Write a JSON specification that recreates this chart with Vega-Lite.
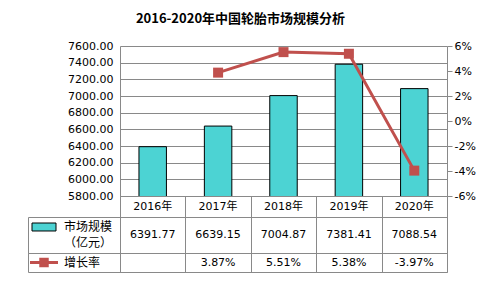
{
  "$schema": "https://vega.github.io/schema/vega-lite/v6.json",
  "padding": {"left": 23, "top": 13, "right": 5, "bottom": 5},
  "background": "#ffffff",
  "title": {
    "text": "2016-2020年中国轮胎市场规模分析",
    "font": "Noto Sans CJK SC",
    "fontSize": 13,
    "fontWeight": "bold",
    "color": "#000000",
    "anchor": "middle",
    "offset": 14,
    "dx": -9
  },
  "datasets": {
    "d": [
      {"year": "2016年", "size": 6391.77, "rate": null},
      {"year": "2017年", "size": 6639.15, "rate": 0.0387},
      {"year": "2018年", "size": 7004.87, "rate": 0.0551},
      {"year": "2019年", "size": 7381.41, "rate": 0.0538},
      {"year": "2020年", "size": 7088.54, "rate": -0.0397}
    ]
  },
  "columns": 2,
  "spacing": 0,
  "bounds": "flush",
  "align": "each",
  "concat": [
    {
      "width": 92,
      "height": 150,
      "data": {"values": []},
      "mark": "point",
      "encoding": {}
    },
    {
      "width": 327,
      "height": 150,
      "data": {"name": "d"},
      "encoding": {
        "x": {
          "field": "year",
          "type": "nominal",
          "sort": null,
          "scale": {"domain": ["2016年", "2017年", "2018年", "2019年", "2020年"], "paddingInner": 0, "paddingOuter": 0},
          "axis": null
        }
      },
      "layer": [
        {
          "mark": {"type": "bar", "width": {"band": 0.42}, "fill": "#4CD3D3", "stroke": "#000000", "strokeWidth": 1, "clip": true},
          "encoding": {
            "y": {
              "field": "size",
              "type": "quantitative",
              "scale": {"domain": [5800, 7600], "zero": false, "nice": false},
              "axis": {
                "orient": "left",
                "values": [5800, 6000, 6200, 6400, 6600, 6800, 7000, 7200, 7400, 7600],
                "format": ".2f",
                "labelOverlap": false,
                "grid": true,
                "gridColor": "#898989",
                "gridOpacity": 1,
                "domain": true,
                "domainColor": "#898989",
                "ticks": false,
                "labelPadding": 7,
                "labelFontSize": 11,
                "labelColor": "#000000",
                "labelFont": "DejaVu Sans",
                "title": null
              }
            }
          }
        },
        {
          "transform": [{"filter": "datum.rate != null"}],
          "encoding": {
            "y": {
              "field": "rate",
              "type": "quantitative",
              "scale": {"domain": [-0.06, 0.06], "nice": false, "zero": false},
              "axis": {
                "orient": "right",
                "values": [-0.06, -0.04, -0.02, 0, 0.02, 0.04, 0.06],
                "format": ".0%",
                "labelOverlap": false,
                "labelSeparation": 0,
                "grid": false,
                "domain": true,
                "domainColor": "#898989",
                "ticks": true,
                "tickSize": 5,
                "tickColor": "#898989",
                "labelPadding": 2,
                "labelFontSize": 11,
                "labelColor": "#000000",
                "labelFont": "DejaVu Sans",
                "title": null
              }
            }
          },
          "layer": [
            {
              "mark": {"type": "line", "color": "#C0504D", "strokeWidth": 3}
            },
            {
              "mark": {"type": "point", "shape": "square", "filled": true, "size": 100, "color": "#C0504D", "opacity": 1}
            }
          ]
        }
      ],
      "resolve": {"scale": {"y": "independent"}}
    },
    {
      "width": 92,
      "height": 21,
      "data": {"values": []},
      "mark": "point",
      "encoding": {}
    },
    {
      "width": 327,
      "height": 21,
      "view": {"stroke": "#898989"},
      "data": {"name": "d"},
      "mark": {"type": "text", "fontSize": 11, "color": "#000000", "font": "DejaVu Sans, Noto Sans CJK SC"},
      "encoding": {
        "x": {
          "field": "year",
          "type": "nominal",
          "scale": {"type": "band", "domain": ["2016年", "2017年", "2018年", "2019年", "2020年"], "paddingInner": 0, "paddingOuter": 0},
          "axis": {"grid": true, "tickBand": "extent", "gridColor": "#898989", "gridOpacity": 1, "labels": false, "ticks": false, "domain": false, "title": null}
        },
        "text": {"field": "year"}
      }
    },
    {
      "width": 92,
      "height": 36,
      "view": {"stroke": "#898989"},
      "encoding": {
        "x": {"field": "col", "type": "nominal", "scale": {"type": "point", "domain": ["sym", "lab"], "range": [16, 36], "padding": 0}, "axis": null},
        "y": {"field": "line", "type": "nominal", "scale": {"type": "point", "domain": ["1", "2"], "range": [10, 26], "padding": 0}, "axis": null}
      },
      "layer": [
        {
          "data": {"values": [{"col": "sym", "line": "1"}]},
          "mark": {"type": "point", "shape": "M-1,-0.333H1V0.333H-1Z", "size": 576, "filled": true, "fill": "#4CD3D3", "stroke": "#000000", "strokeWidth": 1, "opacity": 1}
        },
        {
          "data": {"values": [{"col": "lab", "line": "1", "label": "市场规模"}, {"col": "lab", "line": "2", "label": "（亿元）"}]},
          "mark": {"type": "text", "align": "left", "fontSize": 12, "color": "#000000", "font": "Noto Sans CJK SC"},
          "encoding": {
            "text": {"field": "label"}
          }
        }
      ]
    },
    {
      "width": 327,
      "height": 36,
      "view": {"stroke": "#898989"},
      "data": {"name": "d"},
      "mark": {"type": "text", "fontSize": 11, "color": "#000000", "font": "DejaVu Sans"},
      "encoding": {
        "x": {
          "field": "year",
          "type": "nominal",
          "scale": {"type": "band", "domain": ["2016年", "2017年", "2018年", "2019年", "2020年"], "paddingInner": 0, "paddingOuter": 0},
          "axis": {"grid": true, "tickBand": "extent", "gridColor": "#898989", "gridOpacity": 1, "labels": false, "ticks": false, "domain": false, "title": null}
        },
        "text": {"field": "size", "type": "quantitative", "format": ".2f"}
      }
    },
    {
      "width": 92,
      "height": 19,
      "view": {"stroke": "#898989"},
      "encoding": {
        "x": {"field": "col", "type": "nominal", "scale": {"type": "point", "domain": ["sym", "lab"], "range": [16, 36], "padding": 0}, "axis": null}
      },
      "layer": [
        {
          "data": {"values": [{"col": "sym"}]},
          "mark": {"type": "point", "shape": "stroke", "size": 784, "filled": false, "stroke": "#C0504D", "strokeWidth": 3, "opacity": 1}
        },
        {
          "data": {"values": [{"col": "sym"}]},
          "mark": {"type": "point", "shape": "square", "size": 90, "filled": true, "color": "#C0504D", "opacity": 1}
        },
        {
          "data": {"values": [{"col": "lab", "label": "增长率"}]},
          "mark": {"type": "text", "align": "left", "fontSize": 12, "color": "#000000", "font": "Noto Sans CJK SC"},
          "encoding": {
            "text": {"field": "label"}
          }
        }
      ]
    },
    {
      "width": 327,
      "height": 19,
      "view": {"stroke": "#898989"},
      "data": {"name": "d"},
      "transform": [{"filter": "datum.rate != null"}],
      "mark": {"type": "text", "fontSize": 11, "color": "#000000", "font": "DejaVu Sans"},
      "encoding": {
        "x": {
          "field": "year",
          "type": "nominal",
          "scale": {"type": "band", "domain": ["2016年", "2017年", "2018年", "2019年", "2020年"], "paddingInner": 0, "paddingOuter": 0},
          "axis": {"grid": true, "tickBand": "extent", "gridColor": "#898989", "gridOpacity": 1, "labels": false, "ticks": false, "domain": false, "title": null}
        },
        "text": {"field": "rate", "type": "quantitative", "format": ".2%"}
      }
    }
  ],
  "config": {
    "view": {"stroke": null},
    "font": "DejaVu Sans",
    "locale": {
      "number": {"decimal": ".", "thousands": ",", "grouping": [3], "currency": ["", ""], "minus": "-"}
    }
  }
}
